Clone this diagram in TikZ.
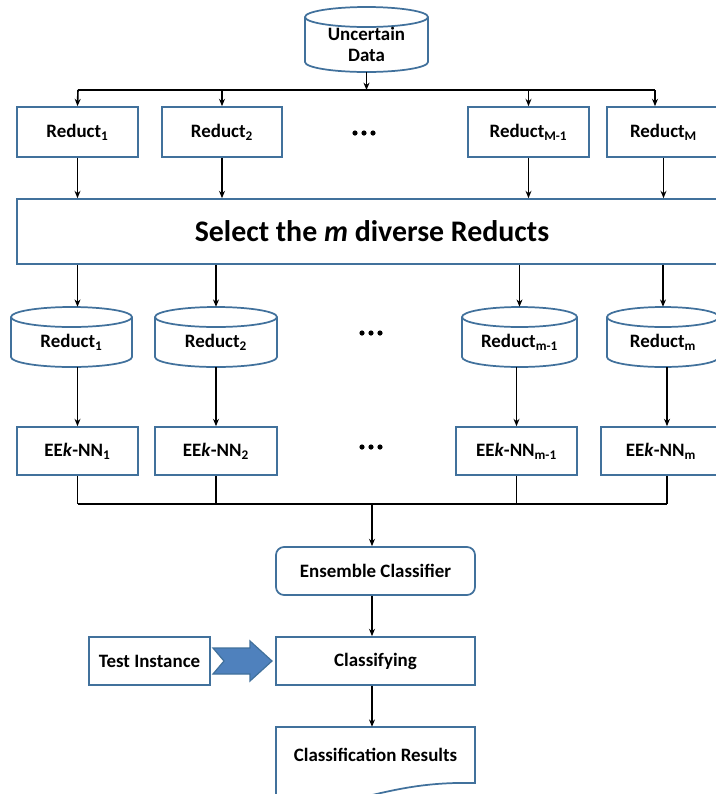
\documentclass[tikz,border=0pt]{standalone}
\usepackage{fontspec}
\setmainfont{Carlito}
\usetikzlibrary{arrows.meta,calc}
\definecolor{bd}{HTML}{41719C}
\definecolor{af}{HTML}{4F81BD}
\newcommand\bx[7][]{\node[box,#1,minimum width={(#5-#3)*0.75pt},minimum height={(#6-#4)*0.75pt}] (#2) at ({(#3+#5)/2},{(#4+#6)/2}) {#7};}
% name L T R B r text
\newcommand\cyl[7]{%
  \filldraw[draw=bd,fill=white,line width=1.3pt] (#2,#3+#6) -- (#2,#5-#6)
    arc[start angle=180,end angle=0,x radius={(#4-#2)/2},y radius=#6] -- (#4,#3+#6)
    arc[start angle=0,end angle=-180,x radius={(#4-#2)/2},y radius=#6] -- cycle;
  \draw[draw=bd,line width=1.3pt] (#2,#3+#6) arc[start angle=180,end angle=0,x radius={(#4-#2)/2},y radius=#6];
  \node[inner sep=0,minimum width={(#4-#2)*0.75pt},minimum height={(#5-#3)*0.75pt}] (#1) at ({(#2+#4)/2},{(#3+#5)/2}) {};
  \node[txt] (#1-t) at ({(#2+#4)/2},{(#3+#6+#6+#5-#6)/2}) {#7};}
\begin{document}
\begin{tikzpicture}[x=0.75pt,y=-0.75pt,
  txt/.style={inner sep=0,align=center,font=\bfseries\fontsize{14.2}{14.5}\selectfont},
  box/.style={draw=bd,line width=1.3pt,fill=white,inner sep=0,align=center,font=\bfseries\fontsize{14.2}{14.5}\selectfont},
  arr/.style={-{Stealth[length=5.5pt,width=4.5pt]},line width=1.2pt,black},
  ln/.style={line width=1.2pt,black}]
\useasboundingbox (0,0) rectangle (716,794);
\clip (0,0) rectangle (716,794);
\fill[white] (0,0) rectangle (716,794);

% top
\cyl{ud}{305}{7}{428}{72}{10}{Uncertain\\[1pt]Data}
\bx{r1}{17}{107}{138}{157}{Reduct\textsubscript{1}}
\bx{r2}{162}{107}{282}{157}{Reduct\textsubscript{2}}
\bx{rM1}{468}{107}{589}{157}{Reduct\textsubscript{M-1}}
\bx{rM}{607}{107}{720}{157}{Reduct\textsubscript{M}}
\foreach \x in {355,364,373} \fill (\x,133) circle[radius=2.6];

\coordinate (b0) at (78,90);
\coordinate (b1) at (655,90);
\draw[ln] (b0) -- (b1);
\draw[arr] (ud.south) -- (ud.south |- b0);
\draw[arr] (b0) -- (r1.north);
\draw[arr] (r2.north |- b0) -- (r2.north);
\draw[arr] (rM1.north |- b0) -- (rM1.north);
\draw[arr] (b1) -- (b1 |- rM.north);

\bx[font=\bfseries\fontsize{22.4}{26}\selectfont]{sel}{17}{199}{727}{264}{Select the \textit{m} diverse Reducts}
\draw[arr] (r1.south) -- (r1.south |- sel.north);
\draw[arr] (r2.south) -- (r2.south |- sel.north);
\draw[arr] (rM1.south) -- (rM1.south |- sel.north);
\draw[arr] (rM.south) -- (rM.south |- sel.north);

% cylinders
\cyl{c1}{11}{307}{132}{367}{10}{Reduct\textsubscript{1}}
\cyl{c2}{155}{307}{277}{367}{10}{Reduct\textsubscript{2}}
\cyl{cm1}{462}{307}{577}{367}{10}{Reduct\textsubscript{m-1}}
\cyl{cm}{607}{307}{719}{367}{10}{Reduct\textsubscript{m}}
\foreach \x in {362,371,380} {\fill (\x,333) circle[radius=2.6]; \fill (\x,447) circle[radius=2.6];}

\draw[arr] (r1.south |- sel.south) -- (r1.south |- c1.north);
\draw[arr] (c2.north |- sel.south) -- (c2.north);
\draw[arr] (cm1.north |- sel.south) -- (cm1.north);
\draw[arr] (cm.north |- sel.south) -- (cm.north);

% classifiers
\bx{e1}{17}{427}{138}{475}{EE\textit{k}-NN\textsubscript{1}}
\bx{e2}{155}{427}{277}{475}{EE\textit{k}-NN\textsubscript{2}}
\bx{em1}{456}{427}{577}{475}{EE\textit{k}-NN\textsubscript{m-1}}
\bx{em}{601}{427}{721}{475}{EE\textit{k}-NN\textsubscript{m}}

\coordinate (bl) at (78,504);
\coordinate (br) at (667,504);
\coordinate (bm) at (372,504);
\draw[arr] (e1.north |- c1.south) -- (e1.north);
\draw[arr] (c2.south) -- (c2.south |- e2.north);
\draw[arr] (em1.north |- cm1.south) -- (em1.north);
\draw[arr] (br |- cm.south) -- (br |- em.north);

\draw[ln] (e1.south) -- (e1.south |- bl);
\draw[ln] (e2.south) -- (e2.south |- bl);
\draw[ln] (em1.south) -- (em1.south |- bl);
\draw[ln] (br |- em.south) -- (br);
\draw[ln] (bl) -- (br);

% bottom
\bx[rounded corners=6pt]{ens}{276}{547}{475}{595}{Ensemble Classifier}
\bx{cls}{276}{637}{475}{685}{Classifying}
\bx{ti}{89}{637}{210}{685}{Test Instance}
\draw[arr] (bm) -- (bm |- ens.north);
\draw[arr] (bm |- ens.south) -- (bm |- cls.north);

\filldraw[fill=af,draw=bd,line width=0.9pt] (213,648) -- (250,648) -- (250,641) -- (272,661) -- (250,681) -- (250,674) -- (213,674) -- (224,661) -- cycle;

\filldraw[draw=bd,fill=white,line width=1.3pt] (276,727) -- (475,727) -- (475,783)
  .. controls (430,782) and (400,788) .. (360,798) .. controls (320,808) and (300,806) .. (276,800) -- cycle;
\node[inner sep=0,minimum width={199*0.75pt},minimum height={67*0.75pt}] (res) at (375.5,760.5) {};
\node[txt] (res-t) at (375.5,755) {Classification Results};
\draw[arr] (bm |- cls.south) -- (bm |- res.north);
\end{tikzpicture}
\end{document}
